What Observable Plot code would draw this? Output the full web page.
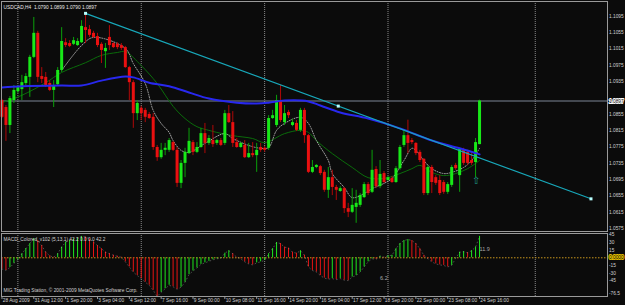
<!DOCTYPE html>
<html><head><meta charset="utf-8">
<script src="https://cdn.jsdelivr.net/npm/d3@7"></script>
<script src="https://cdn.jsdelivr.net/npm/@observablehq/plot@0.6"></script>
<style>
html,body{margin:0;padding:0;background:#0b0b0b;}
#chart{width:625px;height:305px;overflow:hidden;background:#0b0b0b;}
#chart svg{display:block;}
</style></head><body><div id="chart"></div>
<script>
// ---- data (bar index from 31 Aug 12:00 = 0) ----
const headerText = "USDCAD,H4  1.0790 1.0899 1.0790 1.0897";
const macdHeader = "MACD_Colored_v102 (5,13,1) 42.2 0.0 0.0 42.2";
const copyrightText = "MIG Trading Station, \u00a9 2001-2009 MetaQuotes Software Corp.";
const bidPrice = 1.0897;
const bidText = "1.0897";
// [index, open, high, low, close]
const ohlc = [
[-8,1.0898,1.0901,1.0854,1.0857],[-7,1.0881,1.0886,1.0798,1.0837],[-6,1.0837,1.0908,1.0817,1.0903],
[-5,1.0898,1.0935,1.0891,1.0923],[-4,1.0920,1.0935,1.0915,1.0930],[-3,1.0925,1.0960,1.0898,1.0942],
[-2,1.0940,1.0964,1.0935,1.0957],[-1,1.0955,1.1009,1.0906,1.1004],[0,1.1004,1.1102,1.1001,1.1063],
[1,1.1063,1.1068,1.0942,1.0955],[2,1.0957,1.0979,1.0940,1.0950],[3,1.0955,1.0967,1.0930,1.0935],
[4,1.0940,1.0947,1.0920,1.0923],[5,1.0923,1.0947,1.0881,1.0935],[6,1.0937,1.0979,1.0933,1.0972],
[7,1.0972,1.1077,1.0967,1.1043],[8,1.1040,1.1050,1.1028,1.1033],[9,1.1038,1.1045,1.1028,1.1031],
[10,1.1036,1.1053,1.1033,1.1045],[11,1.1033,1.1050,1.1031,1.1043],[12,1.1040,1.1094,1.1038,1.1080],
[13,1.1077,1.1112,1.1038,1.1070],[14,1.1072,1.1082,1.1053,1.1058],[15,1.1063,1.1068,1.1050,1.1053],
[16,1.1055,1.1063,1.1028,1.1033],[17,1.1036,1.1040,1.0989,1.1021],[18,1.1018,1.1038,1.0977,1.1026],
[19,1.1053,1.1082,1.1021,1.1033],[20,1.1038,1.1040,1.1026,1.1028],[21,1.1036,1.1040,1.1023,1.1028],
[22,1.1033,1.1038,1.1021,1.1026],[23,1.1028,1.1031,1.0977,1.0979],[24,1.0979,1.0982,1.0898,1.0942],
[25,1.0942,1.0947,1.0830,1.0866],[26,1.0866,1.0898,1.0849,1.0891],[27,1.0879,1.0884,1.0849,1.0866],
[28,1.0874,1.0879,1.0844,1.0857],[29,1.0864,1.0869,1.0852,1.0854],[30,1.0857,1.0866,1.0776,1.0783],
[31,1.0783,1.0788,1.0749,1.0758],[32,1.0758,1.0793,1.0754,1.0776],[33,1.0776,1.0793,1.0763,1.0781],
[34,1.0776,1.0805,1.0771,1.0800],[35,1.0795,1.0798,1.0773,1.0776],[36,1.0776,1.0783,1.0685,1.0695],
[37,1.0695,1.0751,1.0682,1.0744],[38,1.0744,1.0781,1.0709,1.0771],[39,1.0768,1.0830,1.0766,1.0798],
[40,1.0795,1.0800,1.0763,1.0771],[41,1.0771,1.0795,1.0768,1.0783],[42,1.0783,1.0830,1.0781,1.0817],
[43,1.0817,1.0842,1.0768,1.0793],[44,1.0793,1.0812,1.0788,1.0805],[45,1.0800,1.0837,1.0783,1.0790],
[46,1.0793,1.0803,1.0788,1.0800],[47,1.0800,1.0805,1.0785,1.0788],[48,1.0793,1.0874,1.0788,1.0866],
[49,1.0866,1.0886,1.0842,1.0844],[50,1.0844,1.0871,1.0783,1.0793],[51,1.0795,1.0805,1.0781,1.0783],
[52,1.0783,1.0795,1.0781,1.0793],[53,1.0788,1.0800,1.0756,1.0758],[54,1.0758,1.0793,1.0756,1.0768],
[55,1.0768,1.0795,1.0758,1.0763],[56,1.0763,1.0793,1.0722,1.0776],[57,1.0783,1.0793,1.0771,1.0776],
[58,1.0781,1.0785,1.0771,1.0776],[59,1.0781,1.0861,1.0776,1.0854],[60,1.0854,1.0874,1.0852,1.0861],
[61,1.0837,1.0911,1.0832,1.0898],[62,1.0896,1.0935,1.0844,1.0849],[63,1.0844,1.0886,1.0837,1.0866],
[64,1.0869,1.0874,1.0854,1.0861],[65,1.0837,1.0852,1.0834,1.0844],[66,1.0842,1.0849,1.0822,1.0825],
[67,1.0825,1.0879,1.0820,1.0874],[68,1.0874,1.0879,1.0793,1.0812],[69,1.0812,1.0815,1.0719,1.0722],
[70,1.0722,1.0751,1.0719,1.0734],[71,1.0734,1.0741,1.0731,1.0739],[72,1.0736,1.0739,1.0714,1.0719],
[73,1.0722,1.0727,1.0673,1.0678],[74,1.0678,1.0734,1.0658,1.0709],[75,1.0709,1.0727,1.0665,1.0685],
[76,1.0685,1.0690,1.0653,1.0678],[77,1.0675,1.0687,1.0673,1.0682],[78,1.0682,1.0685,1.0621,1.0633],
[79,1.0633,1.0646,1.0611,1.0624],[80,1.0624,1.0682,1.0621,1.0641],[81,1.0636,1.0678,1.0597,1.0646],
[82,1.0641,1.0670,1.0636,1.0665],[83,1.0660,1.0697,1.0658,1.0692],[84,1.0692,1.0697,1.0665,1.0670],
[85,1.0673,1.0776,1.0670,1.0727],[86,1.0729,1.0736,1.0682,1.0687],[87,1.0687,1.0751,1.0682,1.0717],
[88,1.0719,1.0724,1.0695,1.0697],[89,1.0702,1.0712,1.0700,1.0709],[90,1.0707,1.0712,1.0695,1.0697],
[91,1.0697,1.0736,1.0695,1.0731],[92,1.0731,1.0788,1.0727,1.0783],[93,1.0788,1.0825,1.0783,1.0812],
[94,1.0812,1.0850,1.0768,1.0793],[95,1.0800,1.0805,1.0790,1.0795],[96,1.0793,1.0795,1.0763,1.0768],
[97,1.0771,1.0776,1.0746,1.0751],[98,1.0754,1.0756,1.0665,1.0670],[99,1.0670,1.0739,1.0665,1.0734],
[100,1.0734,1.0739,1.0670,1.0697],[101,1.0709,1.0714,1.0690,1.0695],[102,1.0702,1.0714,1.0665,1.0670],
[103,1.0697,1.0702,1.0668,1.0673],[104,1.0673,1.0697,1.0668,1.0692],[105,1.0690,1.0739,1.0685,1.0734],
[106,1.0739,1.0744,1.0727,1.0731],[107,1.0714,1.0781,1.0673,1.0778],[108,1.0778,1.0781,1.0739,1.0744],
[109,1.0771,1.0776,1.0739,1.0744],[110,1.0751,1.0768,1.0739,1.0744],[111,1.0746,1.0805,1.0709,1.0795],
[112,1.0790,1.0899,1.0790,1.0897]
];
// moving averages read at selected bars: [index, price]
const blueMA = [[-8,1.0930],[-3,1.0933],[7,1.0935],[12,1.0935],[17,1.0947],[23,1.0957],[25,1.0955],[29,1.0942],
[34,1.0933],[39,1.0918],[44,1.0903],[51,1.0893],[56,1.0891],[59,1.0893],[63,1.0898],[69,1.0896],[72,1.0886],
[77,1.0869],[84,1.0854],[92,1.0830],[100,1.0800],[107,1.0781],[112,1.0766]];
const greenMA = [[-8,1.0893],[-3,1.0911],[3,1.0942],[7,1.0967],[13,1.0991],[17,1.1009],[21,1.1016],[23,1.1018],
[27,1.0984],[31,1.0940],[35,1.0884],[38,1.0854],[41,1.0834],[44,1.0825],[46,1.0820],[50,1.0812],[55,1.0805],
[58,1.0795],[63,1.0817],[67,1.0825],[69,1.0820],[71,1.0800],[75,1.0768],[80,1.0734],[84,1.0709],[88,1.0707],
[92,1.0719],[95,1.0731],[97,1.0739],[100,1.0722],[103,1.0714],[106,1.0719],[109,1.0731],[112,1.0751]];
const dotMA = [[7,1.0972],[12,1.1033],[15,1.1053],[23,1.1026],[25,1.0989],[28,1.0940],[30,1.0874],[32,1.0842],
[34,1.0820],[35,1.0800],[37,1.0776],[39,1.0771],[43,1.0793],[48,1.0817],[50,1.0805],[54,1.0788],[57,1.0781],
[59,1.0783],[61,1.0825],[63,1.0842],[67,1.0857],[69,1.0842],[71,1.0800],[74,1.0751],[75,1.0719],[78,1.0685],
[80,1.0660],[83,1.0670],[85,1.0682],[88,1.0695],[90,1.0707],[93,1.0751],[95,1.0781],[96,1.0776],[98,1.0751],
[100,1.0731],[103,1.0719],[105,1.0722],[108,1.0734],[110,1.0751],[112,1.0781]];
const trendLine = [[13,1.1112],[140,1.0657]];
const arrowMark = [[111,1.0702]];
const separators = [-4,27,58,89,126];
const priceTicks = [1.1095,1.1055,1.1015,1.0975,1.0935,1.0855,1.0815,1.0775,1.0735,1.0695,1.0655,1.0615,1.0575];
// MACD histogram: [index, value]
const macd = [[-8,-22],[-7,-25],[-6,-19],[-5,-11],[-4,-4],[-3,8],[-2,18],[-1,28],[0,38],[1,34],[2,24],[3,11],[4,4],
[5,1],[6,8],[7,21],[8,31],[9,34],[10,37],[11,39],[12,42],[13,41],[14,37],[15,31],[16,24],[17,18],[18,11],[19,8],
[20,5],[21,3],[22,1],[23,-8],[24,-18],[25,-28],[26,-35],[27,-41],[28,-48],[29,-54],[30,-64],[31,-76],[32,-68],
[33,-61],[34,-54],[35,-57],[36,-62],[37,-58],[38,-48],[39,-33],[40,-26],[41,-20],[42,-13],[43,-10],[44,-7],[45,-4],
[46,-2],[47,-1],[48,9],[49,14],[50,8],[51,1],[52,-2],[53,-8],[54,-12],[55,-14],[56,-10],[57,-8],[58,-5],[59,8],
[60,18],[61,30],[62,28],[63,21],[64,19],[65,11],[66,9],[67,14],[68,5],[69,-18],[70,-25],[71,-28],[72,-35],[73,-40],
[74,-42],[75,-41],[76,-43],[77,-41],[78,-44],[79,-45],[80,-38],[81,-35],[82,-28],[83,-18],[84,-8],[85,-2],[86,-3],
[87,3],[88,1],[89,4],[90,5],[91,18],[92,28],[93,34],[94,36],[95,34],[96,28],[97,18],[98,5],[99,-2],[100,-8],
[101,-12],[102,-14],[103,-15],[104,-18],[105,-15],[106,-1],[107,11],[108,12],[109,10],[110,14],[111,21],[112,42.2]];
const macdTicks = [45,30,15,-15,-30,-45];
const macdMinLabel = -76.5;
const macdNotes = [[87,-40,"6.2"],[112,16,"11.9"]];
const timeIdx = [-8,0,8,16,24,32,40,48,56,64,72,80,88,96,104,112];
const timeLabels = ["28 Aug 2009","31 Aug 12:00","1 Sep 20:00","3 Sep 04:00","4 Sep 12:00","7 Sep 16:00",
"9 Sep 00:00","10 Sep 08:00","11 Sep 16:00","14 Sep 20:00","16 Sep 04:00","17 Sep 12:00","18 Sep 20:00",
"22 Sep 00:00","23 Sep 08:00","24 Sep 16:00"];

// ---- scales / styles ----
const xDomain = [-8.116, 144.15];
const yDomain = [1.05769, 1.11411];
const macdDomain = [-76.2, 47.8];
const BG = "#0b0b0b", FRAME = "#9a9a9a", TXT = "#d2d2d2";
const font = "Liberation Sans, Arial, sans-serif";
const bull = "#18e818", bear = "#ea1010", bullW = "#0aa00a", bearW = "#b00808";

const candles = ohlc.map(([i,o,h,l,c]) => ({i,o,h,l,c}));
const macdRows = macd.map(([i,v],k) => ({i, v, up: k === 0 ? false : v >= macd[k-1][1]}));
const ticksT = timeIdx.map((i,k) => ({i, label: timeLabels[k]}));
const handles = [trendLine[0], [(trendLine[0][0]+trendLine[1][0])/2, (trendLine[0][1]+trendLine[1][1])/2], trendLine[1]];

const main = Plot.plot({
  width: 625, height: 232,
  marginLeft: 1, marginRight: 18, marginTop: 1, marginBottom: 1,
  x: {domain: xDomain, axis: null},
  y: {domain: yDomain, axis: null},
  style: {background: BG, overflow: "visible", fontFamily: font},
  marks: [
    Plot.ruleX(separators, {x: d => d, stroke: "#8a8a8a", strokeDasharray: "1,1"}),
    Plot.ruleY([bidPrice], {stroke: "#7d8696"}),
    Plot.line(greenMA, {x: d => d[0], y: d => d[1], stroke: "#0a6c0a", strokeWidth: 1, curve: "catmull-rom"}),
    Plot.line(dotMA, {x: d => d[0], y: d => d[1], stroke: "#a4a4a4", strokeWidth: 1, strokeDasharray: "1,1.5", curve: "catmull-rom"}),
    Plot.ruleX(candles, {x: "i", y1: "l", y2: "h", stroke: d => d.c >= d.o ? bullW : bearW, strokeWidth: 1}),
    Plot.ruleX(candles, {x: "i", y1: "o", y2: "c", stroke: d => d.c >= d.o ? bull : bear, strokeWidth: 3}),
    Plot.line(blueMA, {x: d => d[0], y: d => d[1], stroke: "#2828ee", strokeWidth: 2, curve: "catmull-rom"}),
    Plot.line(trendLine, {x: d => d[0], y: d => d[1], stroke: "#18a8ba", strokeWidth: 1.1}),
    Plot.dot(handles, {x: d => d[0], y: d => d[1], symbol: "square", r: 1.7, fill: "#b8ffff"}),
    Plot.text(arrowMark, {x: d => d[0], y: d => d[1], text: () => "\u21e7", fill: "#1f9a86", fontSize: 10}),
    Plot.frame({stroke: FRAME}),
    Plot.text([headerText], {text: d => d, frameAnchor: "top-left", dx: 2, dy: 4, textAnchor: "start", fill: "#e8e8e8", fontSize: 4.8}),
    Plot.text(priceTicks, {y: d => d, text: d => d.toFixed(4), frameAnchor: "right", textAnchor: "start", dx: 1.5, dy: -4, fill: TXT, fontSize: 4.8}),
    Plot.text([bidPrice], {y: d => d, text: () => bidText, frameAnchor: "right", textAnchor: "start", dx: 1.5, fill: "#000", stroke: "#fff", strokeWidth: 1.8, fontSize: 4.8})
  ]
});

const sub = Plot.plot({
  width: 625, height: 73,
  marginLeft: 1, marginRight: 18, marginTop: 1, marginBottom: 9,
  x: {domain: xDomain, axis: null},
  y: {domain: macdDomain, axis: null},
  style: {background: BG, overflow: "visible", fontFamily: font},
  marks: [
    Plot.ruleX(separators, {x: d => d, stroke: "#8a8a8a", strokeDasharray: "1,1"}),
    Plot.ruleY([0], {stroke: "#c8961c", strokeDasharray: "1.5,1.5"}),
    Plot.ruleX(macdRows, {x: "i", y1: 0, y2: "v", stroke: d => d.up ? "#1ee81e" : "#e81414", strokeWidth: 1}),
    Plot.line(macdRows, {x: "i", y: "v", stroke: "#c8c8c8", strokeWidth: 0.7, strokeDasharray: "0.8,3", opacity: 0.5}),
    Plot.frame({stroke: FRAME}),
    Plot.text([macdHeader], {text: d => d, frameAnchor: "top-left", dx: 2, dy: 3.7, textAnchor: "start", fill: TXT, fontSize: 4.8}),
    Plot.text([copyrightText], {text: d => d, frameAnchor: "bottom-left", dx: 2, dy: -5, textAnchor: "start", fill: TXT, fontSize: 4.8}),
    Plot.text(macdNotes, {x: d => d[0], y: d => d[1], text: d => d[2], textAnchor: "start", fill: "#a8a8a8", fontSize: 5.5}),
    Plot.text(macdTicks, {y: d => d, text: d => String(d), frameAnchor: "right", textAnchor: "start", dx: 1.5, fill: TXT, fontSize: 4.8}),
    Plot.text([macdMinLabel], {y: d => d, text: d => String(d), frameAnchor: "right", textAnchor: "start", dx: 1.5, dy: -3, fill: TXT, fontSize: 4.8}),
    Plot.text([0], {y: d => d, text: () => "0.0000", frameAnchor: "right", textAnchor: "start", dx: 1.5, fill: "#000", stroke: "#e8c200", strokeWidth: 1.8, fontSize: 4.8}),
    Plot.ruleX(ticksT, {x: "i", y1: macdDomain[0], y2: macdDomain[0] - 6, stroke: FRAME}),
    Plot.text(ticksT, {x: "i", text: "label", frameAnchor: "bottom", dy: 5, dx: 0.8, textAnchor: "start", fill: TXT, fontSize: 4.8})
  ]
});

const root = document.getElementById("chart");
root.appendChild(main);
root.appendChild(sub);
</script>
</body></html>
